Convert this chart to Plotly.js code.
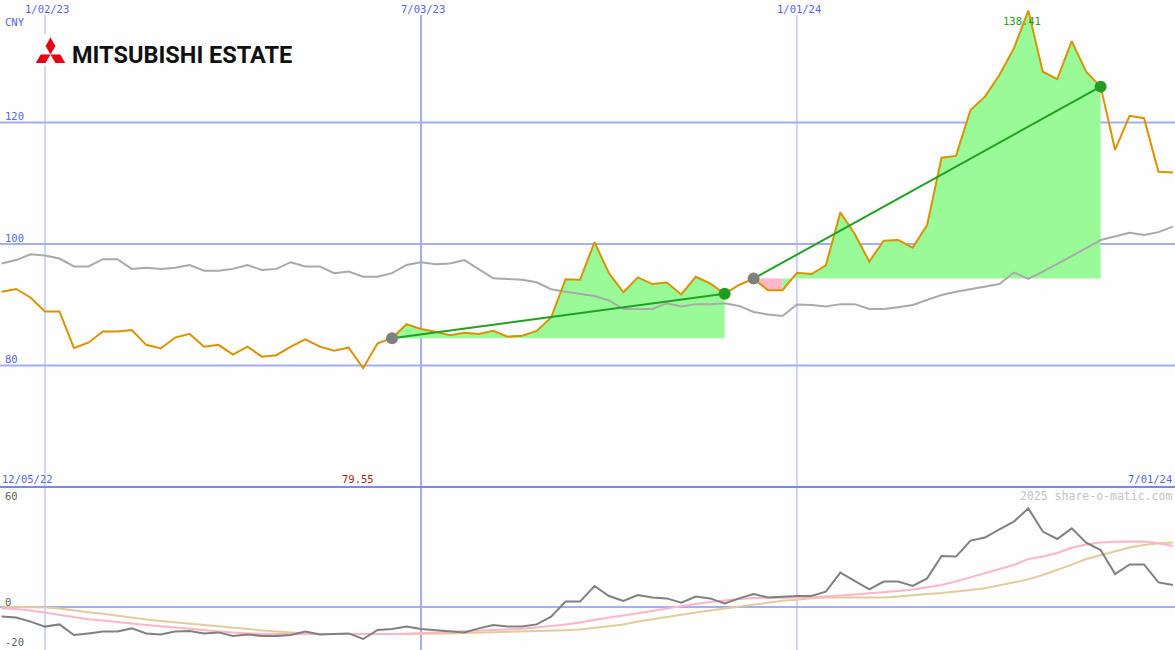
<!DOCTYPE html>
<html>
<head>
<meta charset="utf-8">
<script src="https://cdn.plot.ly/plotly-3.0.1.min.js"></script>
<style>
html,body{margin:0;padding:0;background:#fdfefd;}
#chart{width:1175px;height:650px;}
</style>
</head>
<body>
<div id="chart"></div>
<script>
// ---------- DATA (weekly) ----------
const dates = [
'2022-12-12','2022-12-19','2022-12-26','2023-01-02','2023-01-09','2023-01-16','2023-01-23','2023-01-30','2023-02-06','2023-02-13',
'2023-02-20','2023-02-27','2023-03-06','2023-03-13','2023-03-20','2023-03-27','2023-04-03','2023-04-10','2023-04-17','2023-04-24',
'2023-05-01','2023-05-08','2023-05-15','2023-05-22','2023-05-29','2023-06-05','2023-06-12','2023-06-19','2023-06-26','2023-07-03',
'2023-07-10','2023-07-17','2023-07-24','2023-07-31','2023-08-07','2023-08-14','2023-08-21','2023-08-28','2023-09-04','2023-09-11',
'2023-09-18','2023-09-25','2023-10-02','2023-10-09','2023-10-16','2023-10-23','2023-10-30','2023-11-06','2023-11-13','2023-11-20',
'2023-11-27','2023-12-04','2023-12-11','2023-12-18','2023-12-25','2024-01-01','2024-01-08','2024-01-15','2024-01-22','2024-01-29',
'2024-02-05','2024-02-12','2024-02-19','2024-02-26','2024-03-04','2024-03-11','2024-03-18','2024-03-25','2024-04-01','2024-04-08',
'2024-04-15','2024-04-22','2024-04-29','2024-05-06','2024-05-13','2024-05-20','2024-05-27','2024-06-03','2024-06-10','2024-06-17',
'2024-06-24','2024-07-01'
];
const price = [
92.15,92.6,91.2,88.9,88.9,82.9,83.75,85.6,85.6,85.85,
83.4,82.8,84.6,85.2,83.1,83.4,81.8,83.1,81.45,81.7,
83.1,84.3,83.1,82.45,82.95,79.55,83.65,84.5,86.8,86.0,
85.55,85.0,85.4,85.2,85.7,84.75,84.9,85.7,87.9,94.2,
94.1,100.3,95.2,92.05,94.5,93.4,93.65,91.7,94.6,93.5,
91.8,93.25,94.3,92.4,92.4,95.25,95.05,96.5,105.2,101.65,
97.1,100.55,100.65,99.4,103.1,114.2,114.5,122.05,124.25,127.8,
132.2,138.41,128.35,127.15,133.4,128.35,125.9,115.5,121.1,120.7,
111.9,111.75
];
const movingAvg = [
96.8,97.35,98.3,98.1,97.6,96.3,96.3,97.5,97.5,95.9,
96.1,95.9,96.1,96.55,95.6,95.6,95.9,96.55,95.7,95.9,
97.0,96.3,96.3,95.2,95.45,94.6,94.6,95.2,96.55,97.0,
96.65,96.8,97.35,95.8,94.35,94.25,94.1,93.7,92.55,92.15,
91.8,91.45,90.7,89.3,89.3,89.3,90.25,89.7,90.1,90.1,
90.25,89.8,88.8,88.4,88.15,90.05,89.95,89.7,90.1,90.1,
89.3,89.3,89.6,89.95,90.8,91.6,92.15,92.55,92.95,93.4,
95.3,94.25,95.45,96.7,98.0,99.3,100.65,101.3,101.85,101.5,
101.95,102.85
];
const oscMain = [
-4.8,-5.3,-7.3,-9.8,-8.7,-14,-13.2,-12.3,-12.3,-10.7,
-13.2,-13.7,-12.3,-12,-13.2,-12.7,-14.5,-13.7,-14.5,-14.5,
-14,-12.3,-13.7,-13.5,-13.2,-16,-11.5,-11,-9.8,-11,
-11.5,-12,-12.7,-10.7,-9,-9.8,-9.8,-8.7,-4.8,2.7,
2.7,10.5,5.5,3,6,4.8,4.3,2.2,5.2,4.3,
1.8,4.3,6.5,4.8,5.2,5.5,5.5,7.7,17.2,13,
8.8,12.7,12.7,10.5,14.3,25.5,25.2,33.2,34.7,38.8,
42.7,49.3,37.7,34,39.3,32.2,28.5,16.5,21.3,21.3,
12.3,11
];
const oscPink = [
-0.7,-1.0,-1.8,-2.9,-4.2,-5.2,-6.1,-6.8,-7.4,-8.2,
-9.0,-9.8,-10.3,-10.9,-11.7,-12.2,-12.7,-13.1,-13.5,-13.5,
-13.5,-13.5,-13.5,-13.5,-13.6,-13.7,-13.7,-13.6,-13.4,-13.1,
-12.7,-12.3,-12.1,-11.8,-11.5,-11.3,-10.9,-10.2,-9.6,-8.7,
-7.8,-6.5,-5.2,-4.3,-3.0,-2.0,-0.8,0.5,1.5,2.5,
3.3,4.0,4.5,4.7,4.8,4.8,4.8,5.2,5.8,6.3,
6.9,7.3,8.0,8.8,10.0,11.0,12.8,14.9,17.0,19.0,
21.0,24.0,25.2,27.0,29.6,31.2,32.3,32.6,32.7,32.7,
31.9,30.5
];
const oscTan = [
0.2,0.1,0.0,-0.3,-0.8,-1.8,-2.6,-3.4,-4.4,-5.5,
-6.2,-7.0,-7.7,-8.5,-9.2,-9.8,-10.3,-11.0,-11.7,-12.3,
-12.8,-13.2,-13.4,-13.5,-13.5,-13.5,-13.5,-13.5,-13.5,-13.4,
-13.3,-13.2,-13.0,-12.8,-12.6,-12.4,-12.2,-12.1,-12.0,-11.6,
-11.2,-10.5,-9.8,-8.8,-7.3,-6.1,-5.0,-3.9,-2.8,-1.7,
-0.7,0.4,1.4,2.3,3.1,3.6,4.4,4.7,4.7,4.7,
4.7,4.7,5.2,6.0,6.5,7.0,7.6,8.5,9.4,10.8,
12.3,13.8,16.0,18.5,21.2,24.0,26.0,28.0,29.7,31.0,
31.9,32.2
];
const buyDates  = ['2023-06-19','2023-12-11'];
const sellDates = ['2023-11-27','2024-05-27'];
const priceTicks = [120,100,80];
const priceTickText = ['120','100','80'];
const oscTicks = [60,0,-20];
const oscTickText = ['60','0','-20'];
const dateTicks = ['2023-01-02','2023-07-03','2024-01-01'];
const dateTickText = ['1/02/23','7/03/23','1/01/24'];
const startLabel = '12/05/22';
const endLabel = '7/01/24';
const currency = 'CNY';
const companyName = 'MITSUBISHI ESTATE';
const watermark = '2025 share-o-matic.com';

// ---------- helpers ----------
const W = 1175, H = 650;
const px = x => x / W;
const py = y => 1 - y / H;
const MONO = 'DejaVu Sans Mono';
const BLUE = '#5566ee';
const GRID = '#a4aef5';

const traces = [];

// fills between price and buy level
function addFills(i0, i1) {
  const base = price[i0];
  let segStart = i0;
  let curUp = price[i0 + 1] >= base;
  const push = (a, b, up) => {
    const xs = dates.slice(a, b + 1);
    const ys = price.slice(a, b + 1);
    traces.push({
      x: xs.concat(xs.slice().reverse()),
      y: ys.concat(xs.map(() => base)),
      xaxis: 'x', yaxis: 'y', mode: 'lines', fill: 'toself',
      fillcolor: up ? '#98fb98' : '#ffb6c8', line: {width: 0}, hoverinfo: 'skip'
    });
  };
  for (let j = i0 + 1; j < i1; j++) {
    const up = price[j + 1] >= base;
    if (up !== curUp) { push(segStart, j, curUp); segStart = j; curUp = up; }
  }
  push(segStart, i1, curUp);
}
for (let s = 0; s < buyDates.length; s++) {
  addFills(dates.indexOf(buyDates[s]), dates.indexOf(sellDates[s]));
}

// moving average
traces.push({x: dates, y: movingAvg, xaxis: 'x', yaxis: 'y', mode: 'lines',
  line: {color: '#a9a9a9', width: 2}, hoverinfo: 'skip'});
// price
traces.push({x: dates, y: price, xaxis: 'x', yaxis: 'y', mode: 'lines',
  line: {color: '#dc9200', width: 2}, hoverinfo: 'skip'});
// trend lines + markers
for (let s = 0; s < buyDates.length; s++) {
  const a = dates.indexOf(buyDates[s]), b = dates.indexOf(sellDates[s]);
  traces.push({x: [dates[a], dates[b]], y: [price[a], price[b]], xaxis: 'x', yaxis: 'y',
    mode: 'lines', line: {color: '#22a022', width: 2}, hoverinfo: 'skip'});
  traces.push({x: [dates[a]], y: [price[a]], xaxis: 'x', yaxis: 'y', mode: 'markers',
    marker: {color: '#808080', size: 12}, hoverinfo: 'skip'});
  traces.push({x: [dates[b]], y: [price[b]], xaxis: 'x', yaxis: 'y', mode: 'markers',
    marker: {color: '#239b23', size: 12}, hoverinfo: 'skip'});
}
// oscillators
traces.push({x: dates, y: oscTan, xaxis: 'x', yaxis: 'y2', mode: 'lines',
  line: {color: '#e3cc9c', width: 2}, hoverinfo: 'skip'});
traces.push({x: dates, y: oscPink, xaxis: 'x', yaxis: 'y2', mode: 'lines',
  line: {color: '#ffb4c8', width: 2}, hoverinfo: 'skip'});
traces.push({x: dates, y: oscMain, xaxis: 'x', yaxis: 'y2', mode: 'lines',
  line: {color: '#808080', width: 2}, hoverinfo: 'skip'});

// ---------- shapes ----------
const shapes = [];
priceTicks.forEach(v => shapes.push({type: 'line', xref: 'paper', yref: 'y', x0: 0, x1: 1, y0: v, y1: v,
  line: {color: GRID, width: 2}, layer: 'below'}));
shapes.push({type: 'line', xref: 'paper', yref: 'y2', x0: 0, x1: 1, y0: 0, y1: 0,
  line: {color: GRID, width: 2}, layer: 'below'});
dateTicks.forEach((d, i) => shapes.push({type: 'line', xref: 'x', yref: 'paper', x0: d, x1: d,
  y0: 0, y1: py(15), line: {color: GRID, width: i === 1 ? 2 : 1}, layer: 'below'}));
// panel separator
shapes.push({type: 'line', xref: 'paper', yref: 'paper', x0: 0, x1: 1, y0: py(487), y1: py(487),
  line: {color: '#7b87ee', width: 2}, layer: 'below'});
// logo background
shapes.push({type: 'rect', xref: 'paper', yref: 'paper', x0: px(33), x1: px(296), y0: py(66), y1: py(34),
  fillcolor: '#fdfefd', line: {width: 0}, layer: 'below'});
// logo diamonds
const s = 9.8, cx = 50.5, cy = 54.5, h = s * Math.sqrt(3) / 2;
const poly = pts => 'M ' + pts.map(p => px(p[0]) + ' ' + py(p[1])).join(' L ') + ' Z';
[
  [[cx, cy - 2 * h], [cx + s / 2, cy - h], [cx, cy], [cx - s / 2, cy - h]],
  [[cx, cy], [cx - s, cy], [cx - 1.5 * s, cy + h], [cx - 0.5 * s, cy + h]],
  [[cx, cy], [cx + s, cy], [cx + 1.5 * s, cy + h], [cx + 0.5 * s, cy + h]]
].forEach(p => shapes.push({type: 'path', xref: 'paper', yref: 'paper', path: poly(p),
  fillcolor: '#e60012', line: {width: 0}, layer: 'above'}));

// ---------- annotations ----------
const annotations = [];
function label(text, x, y, opts) {
  annotations.push(Object.assign({text: text, x: x, y: y, xref: 'paper', yref: 'paper',
    showarrow: false, xanchor: 'left', yanchor: 'middle',
    font: {family: MONO, size: 10.5, color: BLUE}, borderpad: 0}, opts || {}));
}
dateTicks.forEach((d, i) => label(dateTickText[i], d, py(9), {xref: 'x', xanchor: 'center', xshift: 2.5}));
label(currency, px(4), py(21.5));
priceTicks.forEach((v, i) => label(priceTickText[i], px(4), v, {yref: 'y', yshift: 6}));
label(startLabel, px(1), py(478.7));
label(endLabel, px(1173), py(478.7), {xanchor: 'right'});
const oscPx = [496, 601.5, 642];
oscTicks.forEach((v, i) => label(oscTickText[i], px(4), py(oscPx[i]), {font: {family: MONO, size: 10.5, color: '#606060'}}));
label(watermark, px(1173), py(496), {xanchor: 'right', font: {family: MONO, size: 11.5, color: '#c4c4c4'}});

let maxI = 0, minI = 0;
price.forEach((v, i) => { if (v > price[maxI]) maxI = i; if (v < price[minI]) minI = i; });
label(price[maxI].toFixed(2), dates[maxI], py(21), {xref: 'x', xanchor: 'center', xshift: -6,
  font: {family: MONO, size: 10.5, color: '#2a9a2a'}});
label(price[minI].toFixed(2), dates[minI], py(478.7), {xref: 'x', xanchor: 'center', xshift: -5,
  font: {family: MONO, size: 10.5, color: '#a81c1c'}});

annotations.push({text: companyName, x: px(71), y: py(55), xref: 'paper', yref: 'paper',
  showarrow: false, xanchor: 'left', yanchor: 'middle', borderpad: 0,
  font: {family: 'Roboto', size: 23.5, color: '#111111', weight: 700}});

const layout = {
  width: W, height: H,
  margin: {l: 0, r: 0, t: 0, b: 0},
  paper_bgcolor: '#fdfefd', plot_bgcolor: '#fdfefd',
  showlegend: false,
  xaxis: {type: 'date', range: ['2022-12-11 05:16', '2024-07-02 00:00'], domain: [0, 1],
    visible: false, fixedrange: true},
  yaxis: {domain: [163 / 650, 1], range: [60, 140.16], visible: false, fixedrange: true},
  yaxis2: {domain: [0, 163 / 650], range: [-21.5, 60], visible: false, fixedrange: true},
  shapes: shapes,
  annotations: annotations
};

Plotly.newPlot('chart', traces, layout, {staticPlot: true, displayModeBar: false});
</script>
</body>
</html>
